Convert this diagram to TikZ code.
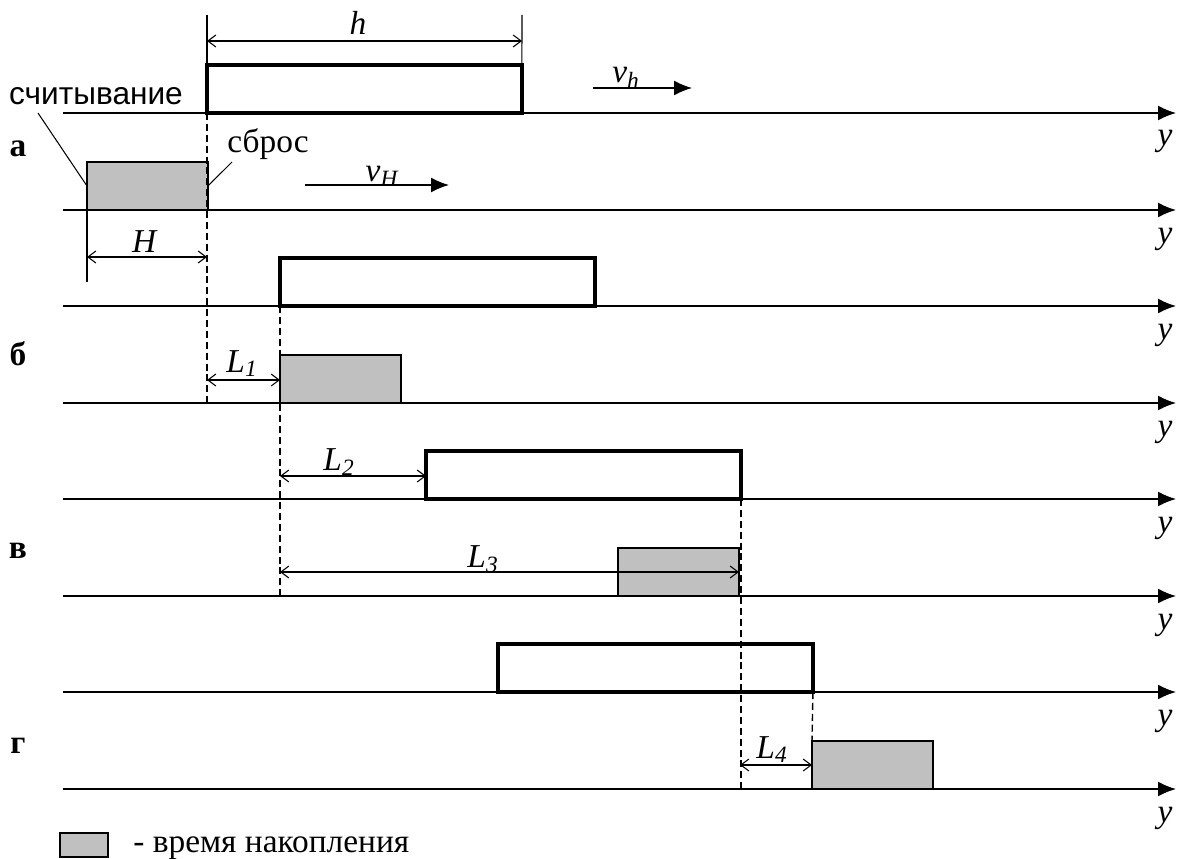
\documentclass[tikz,border=0pt]{standalone}
\usepackage{amsmath}
\usepackage{fontspec}
\setmainfont{Liberation Serif}
\newfontfamily\sansfnt{Liberation Sans}
\usetikzlibrary{arrows.meta,calc}
\definecolor{accumGray}{RGB}{192,192,192}

\begin{document}
\begin{tikzpicture}[x=0.02cm,y=-0.02cm,
    yaxis/.style={line width=0.9pt,-{Latex[length=3.6mm,width=3mm]}},
    winbox/.style={draw,line width=2pt,fill=white,minimum width=6.3cm,minimum height=0.96cm,
      inner sep=0pt,outer sep=0pt,anchor=south west},
    accbox/.style={draw,line width=0.9pt,fill=accumGray,minimum width=2.42cm,minimum height=0.96cm,
      inner sep=0pt,outer sep=0pt,anchor=south west},
    dimarrow/.style={line width=0.6pt,{Straight Barb[length=1.6mm,width=2.4mm]}-{Straight Barb[length=1.6mm,width=2.4mm]}},
    extline/.style={line width=0.6pt},
    dashguide/.style={line width=0.8pt,dash pattern=on 4pt off 2.2pt},
    dimlab/.style={font=\fontsize{19}{22}\selectfont,inner sep=0pt,anchor=base},
    rowlab/.style={font=\fontsize{19}{22}\selectfont\bfseries,inner sep=0pt,anchor=base}]

    \useasboundingbox (0,0) rectangle (1189,858);

    % Оси y для всех восьми строк.
    \foreach \i/\yy in {1/113,2/210,3/306,4/403,5/499,6/596,7/692,8/789}{
      \coordinate (ax\i a) at (63,\yy);
      \coordinate (ax\i b) at (1176,\yy);
      \draw[yaxis] (ax\i a) -- (ax\i b);
      \node[dimlab] (ylab\i) at (1165,\yy+33) {\textit{y}};
    }

    % Окна (h) и время накопления (H).
    \node[winbox] (wa) at (207,113) {};
    \node[accbox] (aa) at (87,210) {};
    \node[winbox] (wb) at (280,306) {};
    \node[accbox] (ab) at (280,403) {};
    \node[winbox] (wc) at (426,499) {};
    \node[accbox] (ac) at (618,596) {};
    \node[winbox] (wd) at (498,692) {};
    \node[accbox] (ad) at (812,789) {};

    % Штриховые проекции.
    \draw[dashguide] (wa.south west) -- (wa.south west |- ax4a);
    \draw[dashguide] (wb.south west) -- (wb.south west |- ax6a);
    \draw[dashguide] (wc.south east) -- (wc.south east |- ax8a);
    \draw[dashguide] (wd.south east) -- (ad.north west);

    % Размер h.
    \coordinate (hL) at (207,15);
    \coordinate (hR) at (522,15);
    \draw[extline] (wa.north west) -- (hL);
    \draw[extline] (wa.north east) -- (hR);
    \coordinate (h1) at (207,41);
    \coordinate (h2) at (522,41);
    \draw[dimarrow] (h1) -- (h2);
    \node[dimlab] (labh) at (358,35) {\textit{h}};

    % Размер H.
    \coordinate (Hext) at (87,282);
    \draw[extline] (aa.south west) -- (Hext);
    \coordinate (H1) at (87,257);
    \coordinate (H2) at (207,257);
    \draw[dimarrow] (H1) -- (H2);
    \node[dimlab] (labH) at (145,252) {\textit{H}};

    % Смещения L1--L4.
    \coordinate (L1a) at (207,380);
    \draw[dimarrow] (L1a) -- (L1a -| ab.west);
    \node[dimlab] (labL1) at (242,372) {\textit{L}$_{\textit{1}}$};
    \coordinate (L2a) at (280,476);
    \draw[dimarrow] (L2a) -- (L2a -| wc.west);
    \node[dimlab] (labL2) at (339,470) {\textit{L}$_{\textit{2}}$};
    \coordinate (L3a) at (280,572);
    \draw[dimarrow] (L3a) -- (L3a -| ac.east);
    \node[dimlab] (labL3) at (483,567) {\textit{L}$_{\textit{3}}$};
    \coordinate (L4a) at (740,765);
    \draw[dimarrow] (L4a) -- (L4a -| ad.west);
    \node[dimlab] (labL4) at (772,758) {\textit{L}$_{\textit{4}}$};

    % Скорости.
    \coordinate (vh1) at (593,88);
    \coordinate (vh2) at (692,88);
    \draw[yaxis] (vh1) -- (vh2);
    \node[dimlab] (labvh) at (626,83) {\textit{v}$_{\textit{h}}$};
    \coordinate (vH1) at (305,185);
    \coordinate (vH2) at (449,185);
    \draw[yaxis] (vH1) -- (vH2);
    \node[dimlab] (labvH) at (382,182) {\textit{v}$_{\textit{H}}$};

    % Подписи.
    \node[font=\sansfnt\fontsize{18}{20}\selectfont,inner sep=0pt,anchor=base] (read) at (96,105) {считывание};
    \coordinate (readtip) at (38,113);
    \draw[extline] (readtip) -- (aa.west);
    \node[font=\fontsize{19}{22}\selectfont,inner sep=0pt,anchor=base] (reset) at (268,153) {сброс};
    \coordinate (resettip) at (232,162);
    \draw[extline] (resettip) -- (aa.east);

    \node[rowlab] (ra) at (18,157) {а};
    \node[rowlab] (rb) at (18,365) {б};
    \node[rowlab] (rv) at (18,558) {в};
    \node[rowlab] (rg) at (18,753) {г};

    % Легенда.
    \node[accbox,minimum width=0.96cm,minimum height=0.48cm,line width=1.2pt] (leg) at (60,857) {};
    \node[font=\fontsize{19}{22}\selectfont,inner sep=0pt,anchor=base west] (legtxt) at (133,852) {- время накопления};
  \end{tikzpicture}
\end{document}
